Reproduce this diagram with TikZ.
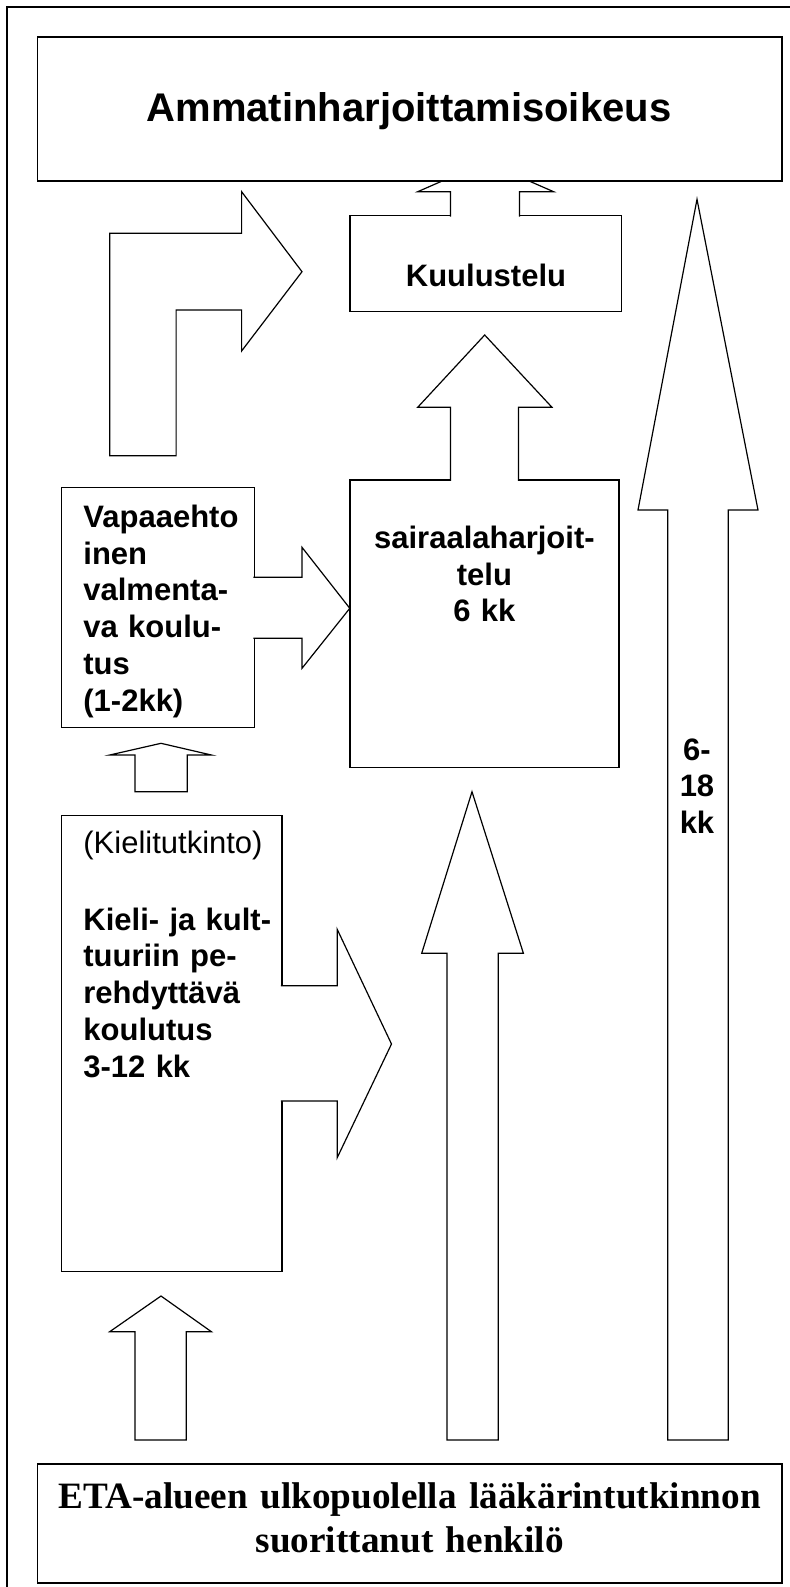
\documentclass[tikz,border=0pt]{standalone}
\usepackage{fontspec}
\newfontfamily\arialfont{Liberation Sans}
\newfontfamily\timesfont{Liberation Serif}
\usepackage{tikz}

\tikzset{
  box/.style={draw, fill=white, line width=0.7pt, inner sep=0pt},
  bigbox/.style={box, line width=0.85pt},
  blockarr/.style={draw, fill=white, line width=0.6pt, line join=miter},
  lbl/.style={inner sep=0pt, font=\arialfont\bfseries\fontsize{15.5}{18.4}\selectfont},
  lblthin/.style={inner sep=0pt, font=\arialfont\fontsize{15.5}{18.4}\selectfont}
}

\begin{document}
\begin{tikzpicture}[x=0.5pt, y=-0.5pt]
\useasboundingbox (0,0) rectangle (789,1587);
% frame
\draw[line width=1pt] (7.3,1595) -- (7.3,7.3) -- (795,7.3);

% boxes
\node[box, minimum width=135.85pt, minimum height=48pt] (kuul) at (485.65,263.7) {};
\node[box, minimum width=96.4pt, minimum height=120pt] (vapaa) at (157.8,607.7) {};
\node[box, minimum width=134.6pt, minimum height=143.85pt] (sair) at (484.4,623.85) {};
\node[box, minimum width=110.2pt, minimum height=228pt] (kieli) at (171.6,1043.7) {};

% arrows
\draw[blockarr] (109.7,455.7) -- (109.7,233.3) -- (241.6,233.3) -- (241.6,191.7) -- (302,271.7) -- (241.6,351) -- (241.6,310) -- (176.1,310) -- (176.1,455.7) -- cycle;
\draw[blockarr] (450.4,216.6) -- (450.4,191.7) -- (417.7,191.7) -- (485.6,162) -- (553.6,191.7) -- (519.4,191.7) -- (519.4,216.6);
\draw[blockarr] (450.4,480.9) -- (450.4,407.3) -- (417.7,407.3) -- (484.7,335) -- (552,407.3) -- (518.4,407.3) -- (518.4,480.9);
\draw[blockarr] (667.8,1440) -- (667.8,510) -- (638,510) -- (697,199.3) -- (758,510) -- (728.2,510) -- (728.2,1440) -- cycle;
\draw[blockarr] (253.3,577.3) -- (302,577.3) -- (302,547.3) -- (349.8,608.3) -- (302,668.3) -- (302,638.3) -- (253.3,638.3);
\draw[blockarr] (134.9,791.7) -- (134.9,755) -- (109.7,755) -- (161,743.3) -- (211.4,755) -- (187.2,755) -- (187.2,791.7) -- cycle;
\draw[blockarr] (280.9,985.7) -- (337.2,985.7) -- (337.2,929.3) -- (391.5,1044) -- (337.2,1157.7) -- (337.2,1101) -- (280.9,1101);
\draw[blockarr] (446.9,1440) -- (446.9,953.3) -- (421.7,953.3) -- (472,791.7) -- (523.4,953.3) -- (498.2,953.3) -- (498.2,1440) -- cycle;
\draw[blockarr] (134.9,1440) -- (134.9,1331.7) -- (109.7,1331.7) -- (161,1296) -- (211.4,1331.7) -- (186.2,1331.7) -- (186.2,1440) -- cycle;

% top and bottom boxes
\node[bigbox, minimum width=372.25pt, minimum height=72.15pt] (ammatti) at (409.75,108.85) {};
\node[bigbox, minimum width=372.25pt, minimum height=59.65pt] (eta) at (409.75,1523.65) {};

% texts
\node[lbl, font=\arialfont\bfseries\fontsize{20}{24}\selectfont, anchor=base] (ammattitxt) at (409,121.7) {Ammatinharjoittamisoikeus};
\node[lbl, anchor=base] (kuultxt) at (486,286.7) {Kuulustelu};
\node[lbl, anchor=base west, text width=90pt, align=left] (vapaatxt) at (83,527.3) {Vapaaehto\\inen\\valmenta-\\va koulu-\\tus\\(1-2kk)};
\node[lbl, anchor=base, text width=130pt, align=center] (sairtxt) at (484.4,548.3) {sairaalaharjoit-\\telu\\6 kk};
\node[lblthin, anchor=base west] (kielitxt) at (83,853.3) {(Kielitutkinto)};
\node[lbl, anchor=base west, text width=105pt, align=left] (kulttxt) at (83,930) {Kieli- ja kult-\\tuuriin pe-\\rehdyttävä\\koulutus\\3-12 kk};
\node[lbl, anchor=base, text width=30pt, align=center] (kktxt) at (697,760) {6-\\18\\kk};
\node[inner sep=0pt, anchor=base, text width=372pt, align=center, font=\timesfont\bfseries\fontsize{18.6}{22}\selectfont] (etatxt) at (409.7,1508.3) {ETA-alueen ulkopuolella lääkärintutkinnon\\suorittanut henkilö};
\end{tikzpicture}
\end{document}
